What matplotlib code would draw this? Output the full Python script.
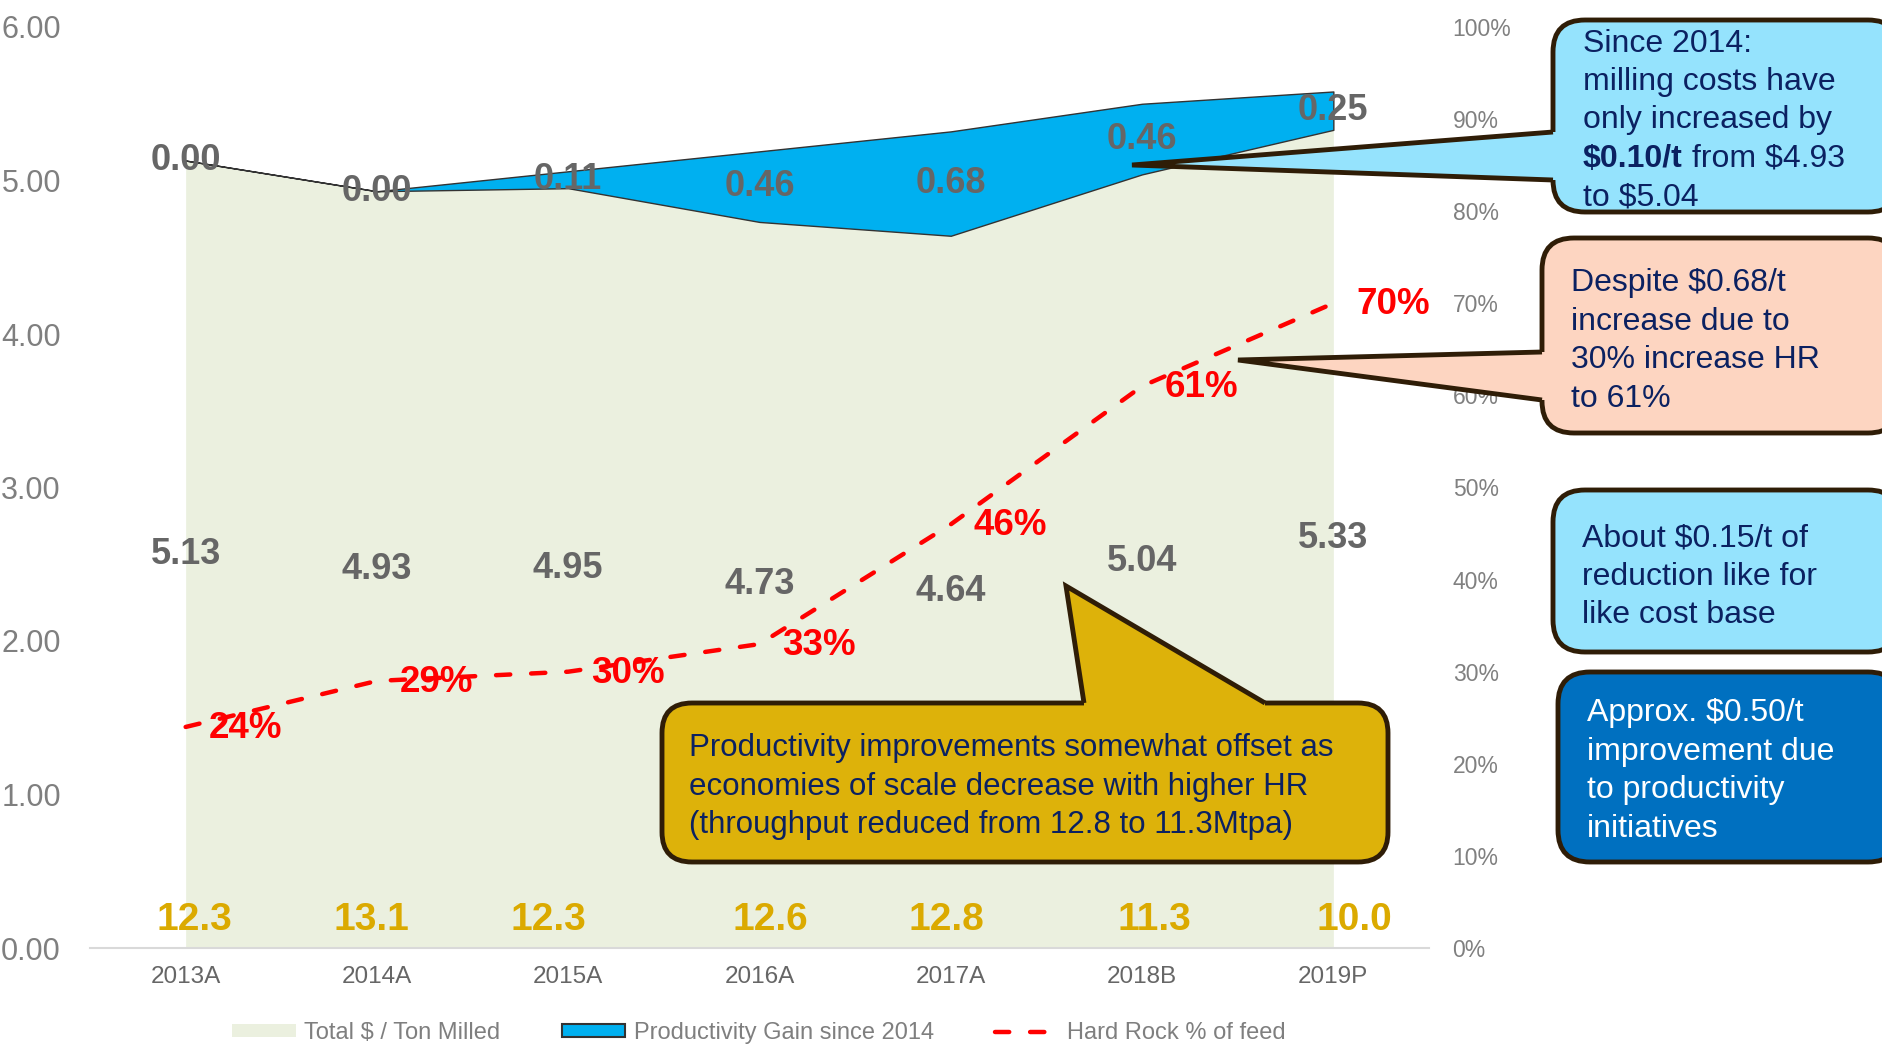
import numpy as np
import matplotlib.pyplot as plt
from matplotlib.patches import FancyBboxPatch, Polygon, Patch
from matplotlib.lines import Line2D

plt.rcParams['text.parse_math'] = False
plt.rcParams['font.family'] = ['Liberation Sans', 'DejaVu Sans']

# data
years = ['2013A', '2014A', '2015A', '2016A', '2017A', '2018B', '2019P']
total_cost = [5.13, 4.93, 4.95, 4.73, 4.64, 5.04, 5.33]
prod_gain = [0.00, 0.00, 0.11, 0.46, 0.68, 0.46, 0.25]
hard_rock = [0.24, 0.29, 0.30, 0.33, 0.46, 0.61, 0.70]
throughput = [12.3, 13.1, 12.3, 12.6, 12.8, 11.3, 10.0]
throughput_dx = [6, -4, -14, 8, -3, 9, 15]   # label nudges (pt)

GREEN = '#EBF0DF'
BLUE = '#00B0F0'
RED = '#FF0000'
GOLD = '#DBAA00'
GREY = '#666666'
NAVY = '#0B2161'
EDGE = '#2F1D07'

W, H = 1883, 1051
fig = plt.figure(figsize=(W / 100, H / 100), dpi=100)
ax = fig.add_axes([90 / W, 1 - 948 / H, (1429 - 90) / W, (948 - 27) / H])

x = np.arange(len(years))
total = np.array(total_cost)
top = total + np.array(prod_gain)

ax.fill_between(x, 0, total, color=GREEN, lw=0)
ax.fill_between(x, total, top, facecolor=BLUE, edgecolor='#333333', lw=1)

ax.set_xlim(-0.5, 6.5)
ax.set_ylim(0, 6)
ax.set_xticks(x)
ax.set_xticklabels(years)
ax.set_yticks(np.arange(0, 7))
ax.set_yticklabels([f'{v:.2f}' for v in range(7)])
ax.tick_params(axis='y', length=0, pad=21, labelsize=22, labelcolor='#7F7F7F')
ax.tick_params(axis='x', length=0, pad=13, labelsize=17.5, labelcolor='#666666')
for s in ['top', 'left', 'right']:
    ax.spines[s].set_visible(False)
ax.spines['bottom'].set_color('#D9D9D9')
ax.spines['bottom'].set_linewidth(1.5)

for i in range(len(years)):
    ax.text(i, total[i] / 2, f'{total_cost[i]:.2f}', ha='center', va='center',
            fontsize=26, fontweight='bold', color=GREY)
    ax.text(i, total[i] + prod_gain[i] / 2, f'{prod_gain[i]:.2f}', ha='center', va='center',
            fontsize=26, fontweight='bold', color=GREY)
    ax.annotate(f'{throughput[i]:.1f}', (i, 0), xytext=(throughput_dx[i], 20),
                textcoords='offset points', ha='center', va='center',
                fontsize=28, fontweight='bold', color=GOLD)

ax2 = ax.twinx()
ax2.set_ylim(0, 1)
ax2.set_yticks(np.arange(0, 1.01, 0.1))
ax2.set_yticklabels([f'{v}%' for v in range(0, 101, 10)])
ax2.tick_params(axis='y', length=0, pad=17, labelsize=16.5, labelcolor='#808080')
for s in ax2.spines.values():
    s.set_visible(False)

ax2.plot(x, hard_rock, color=RED, lw=3.2, dashes=(3.2, 4.7), dash_capstyle='round')
for i, v in enumerate(hard_rock):
    ax2.annotate(f'{round(v * 100)}%', (i, v), xytext=(43, -1), textcoords='offset points',
                 ha='center', va='center', fontsize=26.5, fontweight='bold', color=RED)

handles = [Patch(facecolor=GREEN, edgecolor='none'),
           Patch(facecolor=BLUE, edgecolor='#333333', lw=1.5),
           Line2D([], [], color=RED, lw=3.2, dashes=(3.2, 4.7), dash_capstyle='round')]
fig.legend(handles, ['Total $ / Ton Milled', 'Productivity Gain since 2014', 'Hard Rock % of feed'],
           loc='center', bbox_to_anchor=(0.403, 0.017), ncol=3, frameon=False,
           fontsize=17, labelcolor='#7F7F7F', handlelength=2.7, handleheight=0.5,
           handletextpad=0.35, columnspacing=2.6)

# callouts drawn in pixel coordinates on an overlay
ov = fig.add_axes([0, 0, 1, 1], zorder=10)
ov.set_xlim(0, W)
ov.set_ylim(H, 0)
ov.set_facecolor('none')
ov.axis('off')


def callout(x0, y0, x1, y1, fc, tip=None, base=None, inward=(0, 0), r=32):
    ov.add_patch(FancyBboxPatch((x0, y0), x1 - x0, y1 - y0,
                                boxstyle=f'round,pad=0,rounding_size={r}',
                                fc=fc, ec=EDGE, lw=3.5))
    if tip is not None:
        (bx1, by1), (bx2, by2) = base
        dx, dy = inward
        # fill reaches a bit inside the box so its edge is hidden under the pointer
        ov.add_patch(Polygon([(bx1 + dx, by1 + dy), (bx1, by1), tip, (bx2, by2),
                              (bx2 + dx, by2 + dy)], closed=True, fc=fc, ec='none'))
        ov.plot([bx1, tip[0], bx2], [by1, tip[1], by2], color=EDGE, lw=3.5,
                solid_joinstyle='miter', solid_capstyle='butt')


def lines_at(x0, y0, lines, color, size=23, step=38.4):
    for k, line in enumerate(lines):
        ov.text(x0, y0 + k * step, line, ha='left', va='baseline', color=color,
                fontsize=size)


callout(1553, 20, 1900, 212, '#95E3FD', tip=(1132, 165),
        base=((1553, 132), (1553, 180)), inward=(8, 0))
lines_at(1583, 51.5, ['Since 2014:', 'milling costs have', 'only increased by'], NAVY)
t = ov.text(1583, 51.5 + 3 * 38.4, '$0.10/t', ha='left', va='baseline', color=NAVY,
            fontsize=23, fontweight='bold')
ov.annotate(' from $4.93', xy=(1, 0), xycoords=t, ha='left', va='bottom', color=NAVY,
            fontsize=23)
lines_at(1583, 51.5 + 4 * 38.4, ['to $5.04'], NAVY)

callout(1542, 238, 1900, 433, '#FDD5C1', tip=(1238, 360),
        base=((1542, 352), (1542, 400)), inward=(8, 0))
lines_at(1571, 291.5, ['Despite $0.68/t', 'increase due to', '30% increase HR', 'to 61%'], NAVY)

callout(1553, 490, 1900, 652, '#95E3FD')
lines_at(1582, 546.5, ['About $0.15/t of', 'reduction like for', 'like cost base'], NAVY)

callout(1558, 672, 1900, 862, '#0070C0')
lines_at(1587, 721.5, ['Approx. $0.50/t', 'improvement due', 'to productivity', 'initiatives'], 'white')

callout(662, 703, 1388, 862, '#DDB20A', tip=(1066, 586),
        base=((1084, 703), (1265, 703)), inward=(0, 8), r=30)
lines_at(689, 756, ['Productivity improvements somewhat offset as',
                    'economies of scale decrease with higher HR',
                    '(throughput reduced from 12.8 to 11.3Mtpa)'], NAVY, size=22.5, step=38.5)

fig.savefig('out.png', dpi=100)
